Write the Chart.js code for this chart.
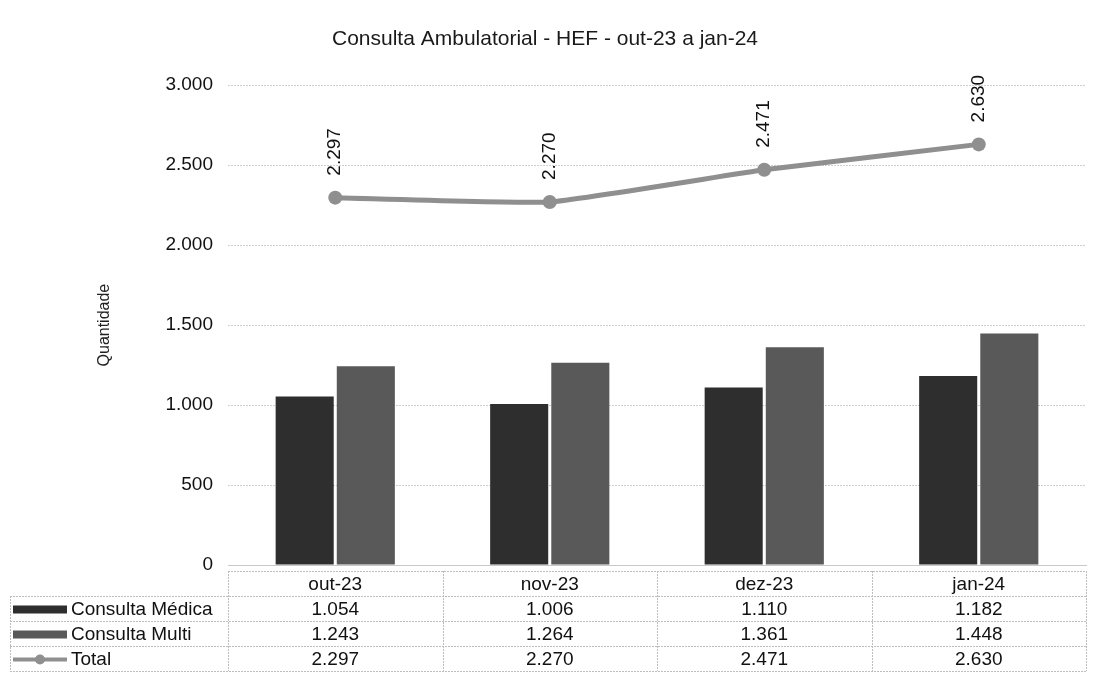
<!DOCTYPE html>
<html>
<head>
<meta charset="utf-8">
<script src="https://cdn.jsdelivr.net/npm/chart.js@4/dist/chart.umd.min.js"></script>
<style>
  html, body { margin: 0; padding: 0; background: #fff; }
  #wrap { width: 1093px; height: 690px; }
</style>
</head>
<body>
<div id="wrap"><canvas id="chart" width="1093" height="690"></canvas></div>
<script>
const meses = ["out-23", "nov-23", "dez-23", "jan-24"];
const consultaMedica = [1054, 1006, 1110, 1182];
const consultaMulti = [1243, 1264, 1361, 1448];
const total = [2297, 2270, 2471, 2630];

const corMedica = "#2e2e2e";
const corMulti = "#595959";
const corTotal = "#8f8f8f";
const fonte = "'Liberation Sans', Arial, sans-serif";

function fmt(v) {
  return String(v).replace(/\B(?=(\d{3})+(?!\d))/g, ".");
}

// rotulos verticais acima dos pontos da linha
const rotulosTotal = {
  id: "rotulosTotal",
  afterDatasetsDraw(chart) {
    const ctx = chart.ctx;
    const meta = chart.getDatasetMeta(2);
    ctx.save();
    ctx.font = "19px " + fonte;
    ctx.fillStyle = "#111";
    ctx.textAlign = "left";
    ctx.textBaseline = "middle";
    meta.data.forEach((pt, i) => {
      ctx.save();
      ctx.translate(pt.x, pt.y - 22);
      ctx.rotate(-Math.PI / 2);
      ctx.fillText(fmt(total[i]), 0, 0);
      ctx.restore();
    });
    ctx.restore();
  }
};

// tabela de dados abaixo do grafico
const tabelaDados = {
  id: "tabelaDados",
  afterDraw(chart) {
    const ctx = chart.ctx;
    const x = chart.scales.x;
    const area = chart.chartArea;
    const passo = x.getPixelForValue(1) - x.getPixelForValue(0);
    const topo = area.bottom + 6;
    const alt = 25;
    const esq = 10;
    const linhas = [
      { nome: "Consulta Médica", valores: consultaMedica, tipo: "barra", cor: corMedica },
      { nome: "Consulta Multi", valores: consultaMulti, tipo: "barra", cor: corMulti },
      { nome: "Total", valores: total, tipo: "linha", cor: corTotal },
    ];

    ctx.save();
    ctx.strokeStyle = "#bdbdbd";
    ctx.lineWidth = 1;
    ctx.setLineDash([2, 1]);
    for (let r = 0; r <= 4; r++) {
      const y = Math.round(topo + r * alt) + 0.5;
      ctx.beginPath();
      ctx.moveTo(r === 0 ? area.left : esq, y);
      ctx.lineTo(area.right, y);
      ctx.stroke();
    }
    ctx.beginPath();
    ctx.moveTo(esq + 0.5, topo + alt);
    ctx.lineTo(esq + 0.5, topo + 4 * alt);
    ctx.stroke();
    for (let c = 0; c <= meses.length; c++) {
      const xv = Math.round(area.left + c * passo) + 0.5;
      ctx.beginPath();
      ctx.moveTo(xv, topo);
      ctx.lineTo(xv, topo + 4 * alt);
      ctx.stroke();
    }
    ctx.setLineDash([]);

    ctx.font = "19px " + fonte;
    ctx.fillStyle = "#111";
    ctx.textAlign = "center";
    ctx.textBaseline = "middle";
    meses.forEach((m, i) => {
      ctx.fillText(m, x.getPixelForValue(i), topo + alt / 2 + 1);
    });

    linhas.forEach((l, r) => {
      const yc = topo + (r + 1) * alt + alt / 2 + 1;
      l.valores.forEach((v, i) => {
        ctx.textAlign = "center";
        ctx.fillText(fmt(v), x.getPixelForValue(i), yc);
      });
      if (l.tipo === "barra") {
        ctx.fillStyle = l.cor;
        ctx.fillRect(esq + 3, yc - 4, 54, 8);
      } else {
        ctx.strokeStyle = l.cor;
        ctx.lineWidth = 4;
        ctx.beginPath();
        ctx.moveTo(esq + 3, yc);
        ctx.lineTo(esq + 57, yc);
        ctx.stroke();
        ctx.fillStyle = l.cor;
        ctx.beginPath();
        ctx.arc(esq + 30, yc, 5, 0, Math.PI * 2);
        ctx.fill();
      }
      ctx.fillStyle = "#111";
      ctx.textAlign = "left";
      ctx.fillText(l.nome, esq + 61, yc);
    });
    ctx.restore();
  }
};

new Chart(document.getElementById("chart"), {
  data: {
    labels: meses,
    datasets: [
      {
        type: "bar",
        label: "Consulta Médica",
        data: consultaMedica,
        backgroundColor: corMedica,
        categoryPercentage: 0.57,
        barPercentage: 0.95,
        order: 1,
      },
      {
        type: "bar",
        label: "Consulta Multi",
        data: consultaMulti,
        backgroundColor: corMulti,
        categoryPercentage: 0.57,
        barPercentage: 0.95,
        order: 1,
      },
      {
        type: "line",
        label: "Total",
        data: total,
        borderColor: corTotal,
        backgroundColor: corTotal,
        borderWidth: 5,
        pointRadius: 7,
        pointBackgroundColor: corTotal,
        pointBorderWidth: 0,
        tension: 0.12,
        order: 0,
      },
    ],
  },
  options: {
    responsive: false,
    animation: false,
    layout: { padding: { left: 0, right: 3, top: 0, bottom: 117 } },
    plugins: {
      legend: { display: false },
      tooltip: { enabled: false },
      title: {
        display: true,
        text: "Consulta Ambulatorial - HEF - out-23 a jan-24",
        color: "#1a1a1a",
        font: { family: fonte, size: 21, weight: "normal" },
        padding: { top: 27, bottom: 33 },
      },
    },
    scales: {
      x: {
        grid: { display: false },
        ticks: { display: false },
        border: { display: true, color: "#c8c8c8" },
      },
      y: {
        min: 0,
        max: 3000,
        ticks: {
          stepSize: 500,
          padding: 15,
          color: "#111",
          font: { family: fonte, size: 19 },
          callback: (v) => fmt(v),
        },
        grid: { color: "#cfcfcf", drawTicks: false },
        border: { display: false, dash: [2, 1] },
        title: {
          display: true,
          text: "Quantidade",
          color: "#222",
          font: { family: fonte, size: 16 },
          padding: { top: 95 },
        },
        afterFit(scale) { scale.width = 228; },
      },
    },
  },
  plugins: [rotulosTotal, tabelaDados],
});
</script>
</body>
</html>
